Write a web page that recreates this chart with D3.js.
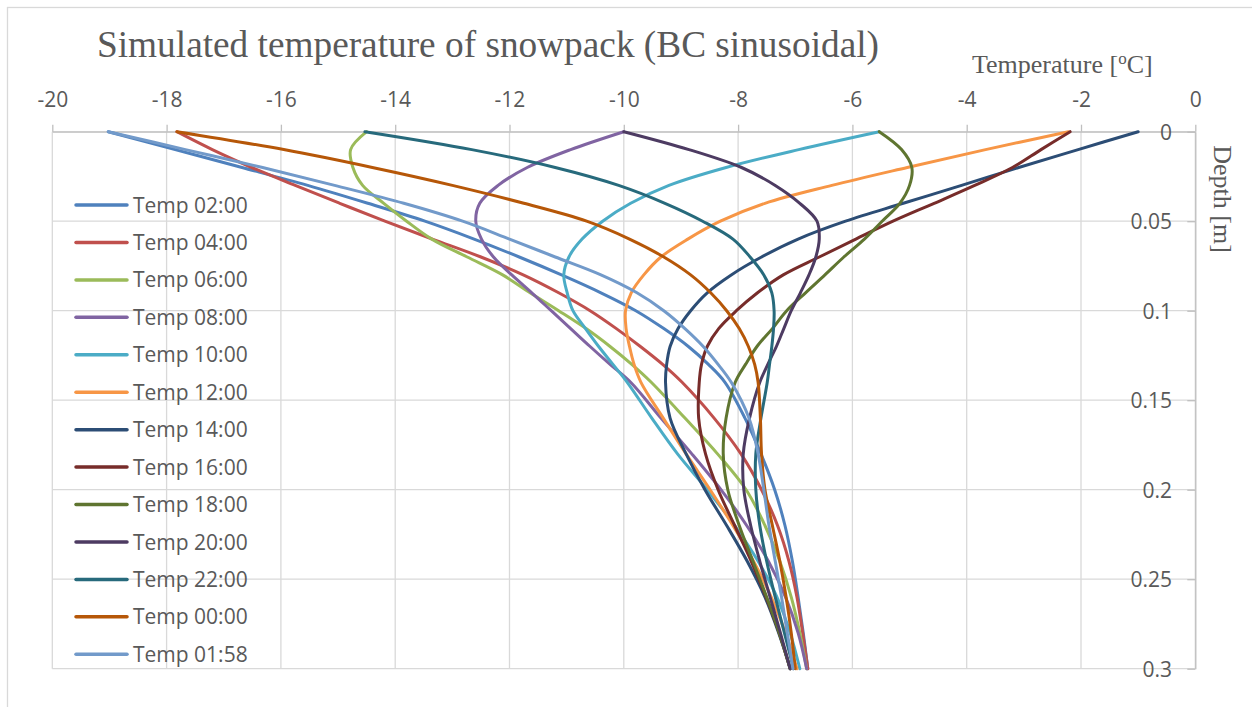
<!DOCTYPE html>
<html>
<head>
<meta charset="utf-8">
<script src="https://cdn.jsdelivr.net/npm/d3@7"></script>
<style>
  html, body { margin: 0; padding: 0; background: #ffffff; }
  svg { display: block; }
</style>
</head>
<body>
<svg id="chart" width="1252" height="707"></svg>
<script>
// Depth levels (m) at which each temperature profile is listed
const depths = [0, 0.01, 0.02, 0.03, 0.04, 0.05, 0.06, 0.07, 0.08, 0.09, 0.10, 0.11, 0.12, 0.13, 0.14,
                0.16, 0.18, 0.20, 0.22, 0.24, 0.26, 0.28, 0.30];

// Temperature profiles (°C), one value per depth level
const temp0200 = [-19.02, -17.85, -16.68, -15.53, -14.48, -13.48, -12.62, -11.83, -11.09, -10.40, -9.79, -9.30, -8.87, -8.52, -8.23, -7.88, -7.60, -7.36, -7.18, -7.05, -6.95, -6.86, -6.78];
const temp0400 = [-17.82, -17.20, -16.51, -15.75, -14.97, -14.18, -13.35, -12.50, -11.76, -11.14, -10.59, -10.13, -9.71, -9.32, -8.98, -8.42, -7.95, -7.59, -7.31, -7.11, -6.97, -6.87, -6.78];
const temp0600 = [-14.50, -14.78, -14.74, -14.57, -14.20, -13.80, -13.36, -12.74, -12.12, -11.64, -11.14, -10.66, -10.24, -9.86, -9.52, -8.93, -8.36, -7.86, -7.53, -7.27, -7.07, -6.92, -6.80];
const temp0800 = [-10.00, -10.93, -11.69, -12.20, -12.52, -12.59, -12.49, -12.28, -11.96, -11.61, -11.27, -10.93, -10.59, -10.24, -9.88, -9.35, -8.81, -8.30, -7.85, -7.47, -7.17, -6.95, -6.80];
const temp1000 = [-5.53, -6.94, -8.21, -9.21, -9.88, -10.37, -10.73, -10.96, -11.05, -10.99, -10.89, -10.67, -10.44, -10.19, -9.94, -9.51, -9.06, -8.54, -8.06, -7.65, -7.32, -7.09, -6.92];
const temp1200 = [-2.22, -3.67, -5.04, -6.36, -7.53, -8.31, -8.88, -9.35, -9.65, -9.87, -9.97, -9.96, -9.90, -9.82, -9.70, -9.31, -8.91, -8.49, -8.09, -7.73, -7.42, -7.17, -6.97];
const temp1400 = [-1.00, -2.05, -3.09, -4.09, -5.11, -6.12, -6.95, -7.59, -8.12, -8.54, -8.83, -9.05, -9.19, -9.25, -9.27, -9.19, -8.91, -8.58, -8.20, -7.84, -7.53, -7.29, -7.09];
const temp1600 = [-2.19, -2.70, -3.20, -3.86, -4.57, -5.29, -5.94, -6.58, -7.21, -7.66, -8.03, -8.34, -8.54, -8.64, -8.68, -8.69, -8.57, -8.35, -8.06, -7.77, -7.51, -7.28, -7.09];
const temp1800 = [-5.53, -5.14, -4.96, -5.00, -5.17, -5.48, -5.79, -6.15, -6.48, -6.82, -7.15, -7.40, -7.67, -7.87, -8.05, -8.21, -8.26, -8.18, -7.98, -7.74, -7.50, -7.28, -7.09];
const temp2000 = [-10.00, -8.86, -7.94, -7.35, -6.92, -6.62, -6.58, -6.64, -6.76, -6.91, -7.07, -7.20, -7.33, -7.48, -7.62, -7.80, -7.91, -7.90, -7.78, -7.62, -7.44, -7.26, -7.09];
const temp2200 = [-14.53, -12.66, -11.20, -10.09, -9.28, -8.62, -8.09, -7.79, -7.55, -7.41, -7.37, -7.38, -7.41, -7.45, -7.49, -7.60, -7.69, -7.69, -7.62, -7.50, -7.35, -7.19, -7.03];
const temp0000 = [-17.82, -15.95, -14.40, -13.00, -11.75, -10.65, -9.90, -9.30, -8.83, -8.48, -8.20, -7.98, -7.82, -7.71, -7.65, -7.61, -7.59, -7.53, -7.40, -7.27, -7.16, -7.07, -7.00];
const temp0158 = [-19.02, -17.67, -16.32, -15.06, -13.85, -12.82, -12.00, -11.20, -10.40, -9.77, -9.30, -8.93, -8.61, -8.35, -8.12, -7.81, -7.65, -7.55, -7.46, -7.35, -7.24, -7.14, -7.04];

const seriesNames = ["Temp 02:00", "Temp 04:00", "Temp 06:00", "Temp 08:00", "Temp 10:00", "Temp 12:00",
                     "Temp 14:00", "Temp 16:00", "Temp 18:00", "Temp 20:00", "Temp 22:00", "Temp 00:00", "Temp 01:58"];
const seriesValues = [temp0200, temp0400, temp0600, temp0800, temp1000, temp1200,
                      temp1400, temp1600, temp1800, temp2000, temp2200, temp0000, temp0158];
const seriesColors = ["#4F81BD", "#C0504D", "#9BBB59", "#8064A2", "#4BACC6", "#F79646",
                      "#2C4D75", "#772C2A", "#5F7530", "#4D3B62", "#276A7C", "#B65708", "#729ACA"];

// Axis tick values
const tempTicks = [-20, -18, -16, -14, -12, -10, -8, -6, -4, -2, 0];
const depthTicks = [0, 0.05, 0.1, 0.15, 0.2, 0.25, 0.3];

const svg = d3.select("#chart");
const W = 1252, H = 707;
const textColor = "#595959";
const gridColor = "#D9D9D9";
const axisColor = "#BFBFBF";
const sansFont = "'Open Sans', 'Noto Sans', sans-serif";
const serifFont = "'Liberation Serif', 'DejaVu Serif', serif";

svg.append("rect").attr("width", W).attr("height", H).attr("fill", "#ffffff");

// Chart frame
svg.append("rect")
  .attr("x", 7.5).attr("y", 7.5)
  .attr("width", W + 20).attr("height", H + 20)
  .attr("fill", "none").attr("stroke", gridColor).attr("stroke-width", 1.3);

const x = d3.scaleLinear().domain([-20, 0]).range([52.3, 1195.3]);
const y = d3.scaleLinear().domain([0, 0.3]).range([131.7, 668.7]);

// Gridlines
const grid = svg.append("g").attr("stroke", gridColor).attr("stroke-width", 1.3);
grid.selectAll("line.v").data(tempTicks).join("line")
  .attr("class", "v")
  .attr("x1", d => x(d)).attr("x2", d => x(d))
  .attr("y1", y(0)).attr("y2", y(0.3));
grid.selectAll("line.h").data(depthTicks).join("line")
  .attr("class", "h")
  .attr("x1", x(-20)).attr("x2", x(0))
  .attr("y1", d => y(d)).attr("y2", d => y(d));

// Temperature axis along the top
const xAxis = svg.append("g")
  .attr("transform", `translate(0,${y(0)})`)
  .call(d3.axisTop(x).tickValues(tempTicks).tickSize(7).tickSizeOuter(0).tickPadding(17.5)
        .tickFormat(d => String(d)));

// Depth axis on the right, labels placed inside the plot
const yAxis = svg.append("g")
  .attr("transform", `translate(${x(0)},0)`)
  .call(d3.axisLeft(y).tickValues(depthTicks).tickSize(8).tickSizeOuter(0).tickPadding(15.3)
        .tickFormat(d => String(+d.toFixed(2))));

[xAxis, yAxis].forEach(g => {
  g.select(".domain").attr("stroke", axisColor).attr("stroke-width", 1.3);
  g.selectAll(".tick line").attr("stroke", axisColor).attr("stroke-width", 1.3);
  g.selectAll(".tick text")
    .attr("fill", textColor)
    .style("font-family", sansFont)
    .style("font-size", "21px");
});
xAxis.selectAll(".tick text").attr("dy", "0em");
yAxis.selectAll(".tick text").attr("dy", "0.36em");

// Titles
svg.append("text")
  .attr("x", 97).attr("y", 57)
  .attr("fill", textColor)
  .style("font-family", serifFont).style("font-size", "37.3px")
  .text("Simulated temperature of snowpack (BC sinusoidal)");

const tTitle = svg.append("text")
  .attr("x", 972).attr("y", 72.7)
  .attr("fill", textColor)
  .style("font-family", serifFont).style("font-size", "26px");
tTitle.append("tspan").text("Temperature [");
tTitle.append("tspan").attr("dy", -9).style("font-size", "17px").text("o");
tTitle.append("tspan").attr("dy", 9).text("C]");

svg.append("text")
  .attr("transform", `translate(1214,199) rotate(90)`)
  .attr("text-anchor", "middle")
  .attr("fill", textColor)
  .style("font-family", serifFont).style("font-size", "26px")
  .text("Depth [m]");

// Temperature profiles
const series = seriesNames.map((name, i) => ({
  name,
  color: seriesColors[i],
  points: depths.map((z, j) => ({ z, t: seriesValues[i][j] }))
}));

const line = d3.line()
  .x(d => x(d.t))
  .y(d => y(d.z))
  .curve(d3.curveCatmullRom.alpha(0.5));

svg.append("g").selectAll("path").data(series).join("path")
  .attr("d", d => line(d.points))
  .attr("fill", "none")
  .attr("stroke", d => d.color)
  .attr("stroke-width", 3)
  .attr("stroke-linejoin", "round")
  .attr("stroke-linecap", "round");

// Legend
const legendTop = 205, legendStep = 37.44;
const legend = svg.append("g").selectAll("g").data(series).join("g")
  .attr("transform", (d, i) => `translate(0,${legendTop + i * legendStep})`);
legend.append("line")
  .attr("x1", 76).attr("x2", 127)
  .attr("stroke", d => d.color).attr("stroke-width", 3.5)
  .attr("stroke-linecap", "round");
legend.append("text")
  .attr("x", 133).attr("dy", "0.36em")
  .attr("fill", textColor)
  .style("font-family", sansFont).style("font-size", "21px")
  .text(d => d.name);
</script>
</body>
</html>
